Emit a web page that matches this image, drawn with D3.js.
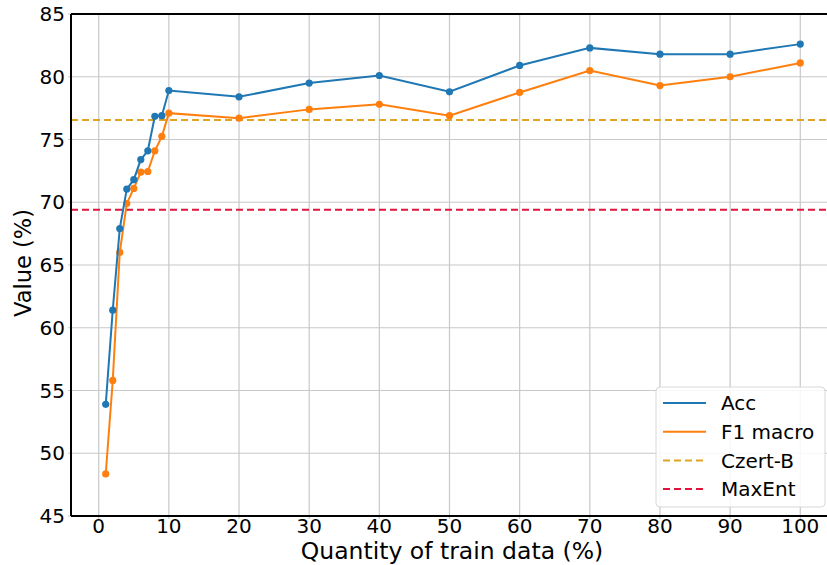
<!DOCTYPE html>
<html>
<head>
<meta charset="utf-8">
<script src="https://cdn.jsdelivr.net/npm/d3@7"></script>
<style>
  body { margin: 0; background: #fff; }
  svg { display: block; font-family: "DejaVu Sans", sans-serif; }
</style>
</head>
<body>
<div id="chart"></div>
<script>
// train data share (%)
const quantity = [1, 2, 3, 4, 5, 6, 7, 8, 9, 10, 20, 30, 40, 50, 60, 70, 80, 90, 100];
const accValues = [53.9, 61.4, 67.9, 71.05, 71.8, 73.4, 74.1, 76.85, 76.9, 78.9, 78.4, 79.5, 80.1, 78.8, 80.9, 82.3, 81.8, 81.8, 82.6];
const f1Values = [48.35, 55.8, 66.0, 69.9, 71.1, 72.4, 72.45, 74.1, 75.25, 77.1, 76.7, 77.4, 77.8, 76.9, 78.75, 80.5, 79.3, 80.0, 81.1];
const czertB = 76.55;
const maxEnt = 69.4;
const xTicks = [0, 10, 20, 30, 40, 50, 60, 70, 80, 90, 100];
const yTicks = [45, 50, 55, 60, 65, 70, 75, 80, 85];

const svgWidth = 827, svgHeight = 565;
const plotLeft = 71, plotRight = 835, plotTop = 14, plotBottom = 516;

const svg = d3.select("#chart")
    .append("svg")
    .attr("width", svgWidth)
    .attr("height", svgHeight);

const x = d3.scaleLinear().domain([-3.95, 104.95]).range([plotLeft, plotRight]);
const y = d3.scaleLinear().domain([45, 85]).range([plotBottom, plotTop]);

// grid
svg.append("g")
    .selectAll("line")
    .data(xTicks)
    .join("line")
    .attr("x1", d => x(d)).attr("x2", d => x(d))
    .attr("y1", plotTop).attr("y2", plotBottom + 3)
    .attr("stroke", "#c8c8c8")
    .attr("stroke-width", 1.2);
svg.append("g")
    .selectAll("line")
    .data(yTicks)
    .join("line")
    .attr("x1", plotLeft - 3).attr("x2", plotRight)
    .attr("y1", d => y(d)).attr("y2", d => y(d))
    .attr("stroke", "#c8c8c8")
    .attr("stroke-width", 1.2);

// baselines
const refLines = [
    {value: czertB, color: "#e0a520"},
    {value: maxEnt, color: "#e0143c"}
];
svg.append("g")
    .selectAll("line")
    .data(refLines)
    .join("line")
    .attr("x1", plotLeft).attr("x2", plotRight)
    .attr("y1", d => y(d.value)).attr("y2", d => y(d.value))
    .attr("stroke", d => d.color)
    .attr("stroke-width", 2)
    .attr("stroke-dasharray", "7,4");

// series
const series = [
    {name: "F1 macro", values: f1Values, color: "#ff7f0e"},
    {name: "Acc", values: accValues, color: "#1f77b4"}
];
const line = d3.line()
    .x(d => x(d[0]))
    .y(d => y(d[1]));

series.forEach(s => {
    const pts = quantity.map((q, i) => [q, s.values[i]]);
    svg.append("path")
        .datum(pts)
        .attr("d", line)
        .attr("fill", "none")
        .attr("stroke", s.color)
        .attr("stroke-width", 2);
    svg.append("g")
        .selectAll("circle")
        .data(pts)
        .join("circle")
        .attr("cx", d => x(d[0]))
        .attr("cy", d => y(d[1]))
        .attr("r", 3.6)
        .attr("fill", s.color);
});

// spines
svg.append("line")
    .attr("x1", plotLeft).attr("x2", plotLeft)
    .attr("y1", plotTop).attr("y2", plotBottom)
    .attr("stroke", "black").attr("stroke-width", 2);
svg.append("line")
    .attr("x1", plotLeft).attr("x2", plotRight)
    .attr("y1", plotBottom).attr("y2", plotBottom)
    .attr("stroke", "black").attr("stroke-width", 2);
svg.append("line")
    .attr("x1", plotLeft).attr("x2", plotRight)
    .attr("y1", plotTop).attr("y2", plotTop)
    .attr("stroke", "black").attr("stroke-width", 2);

// tick labels
svg.append("g")
    .selectAll("text")
    .data(xTicks)
    .join("text")
    .attr("x", d => x(d))
    .attr("y", 533)
    .attr("text-anchor", "middle")
    .style("font-size", "20px")
    .text(d => d);
svg.append("g")
    .selectAll("text")
    .data(yTicks)
    .join("text")
    .attr("x", 65)
    .attr("y", d => y(d))
    .attr("dy", "0.36em")
    .attr("text-anchor", "end")
    .style("font-size", "20px")
    .text(d => d);

// axis titles
svg.append("text")
    .attr("x", 452)
    .attr("y", 559.3)
    .attr("text-anchor", "middle")
    .style("font-size", "23.5px")
    .text("Quantity of train data (%)");
svg.append("text")
    .attr("transform", "translate(31, 263) rotate(-90)")
    .attr("text-anchor", "middle")
    .style("font-size", "22.5px")
    .text("Value (%)");

// legend
const legendItems = [
    {label: "Acc", color: "#1f77b4", dash: null},
    {label: "F1 macro", color: "#ff7f0e", dash: null},
    {label: "Czert-B", color: "#e0a520", dash: "7,4"},
    {label: "MaxEnt", color: "#e0143c", dash: "7,4"}
];
const legend = svg.append("g").attr("transform", "translate(656, 387)");
legend.append("rect")
    .attr("width", 169)
    .attr("height", 120)
    .attr("rx", 4)
    .attr("fill", "white")
    .attr("fill-opacity", 0.85)
    .attr("stroke", "#d8d8d8");
const rows = legend.selectAll(".legend")
    .data(legendItems)
    .join("g")
    .attr("class", "legend")
    .attr("transform", (d, i) => `translate(0, ${16 + i * 28.7})`);
rows.append("line")
    .attr("x1", 7).attr("x2", 50)
    .attr("stroke", d => d.color)
    .attr("stroke-width", 2)
    .attr("stroke-dasharray", d => d.dash);
rows.append("text")
    .attr("x", 65)
    .attr("dy", "0.36em")
    .style("font-size", "20px")
    .text(d => d.label);
</script>
</body>
</html>
